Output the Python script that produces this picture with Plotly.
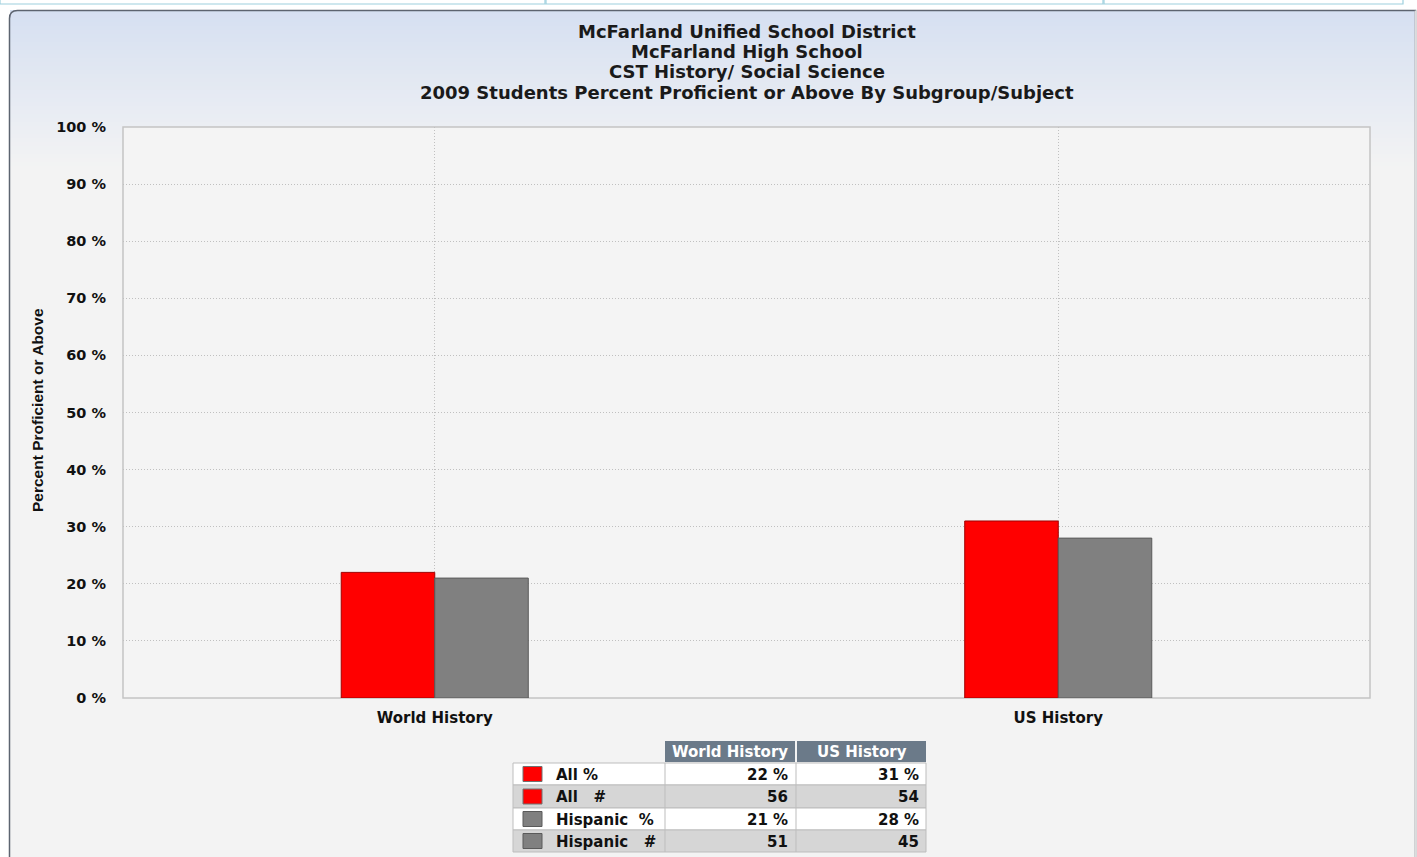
import plotly.graph_objects as go

# ---------------- data ----------------
subjects = ["World History", "US History"]
all_pct = [22, 31]
all_n = [56, 54]
hisp_pct = [21, 28]
hisp_n = [51, 45]
title_lines = [
    "McFarland Unified School District",
    "McFarland High School",
    "CST History/ Social Science",
    "2009 Students Percent Proficient or Above By Subgroup/Subject",
]
y_title = "Percent Proficient or Above"
row_labels = ["All %", "All&nbsp;&nbsp;&nbsp;#", "Hispanic&nbsp;&nbsp;%", "Hispanic&nbsp;&nbsp;&nbsp;#"]
row_colors = ["#ff0000", "#ff0000", "#808080", "#808080"]

# ---------------- geometry ----------------
W, H = 1417, 857
L, R, T, B = 123, 1370, 127, 698  # plot area in px


def px(x):
    return (x - L) / (R - L)


def py(y):
    return (B - y) / (B - T)


FONT = "DejaVu Sans, Verdana, sans-serif"

fig = go.Figure()
fig.add_trace(go.Bar(
    x=subjects, y=all_pct, name="All %", width=0.15, offset=-0.15,
    marker=dict(color="#ff0000", line=dict(color="#a00000", width=1)),
))
fig.add_trace(go.Bar(
    x=subjects, y=hisp_pct, name="Hispanic %", width=0.15, offset=0,
    marker=dict(color="#808080", line=dict(color="#5a5a5a", width=1)),
))

shapes = []
# top tab strip
for x0, x1 in [(0, 545), (546, 1103), (1104, 1403)]:
    shapes.append(dict(type="rect", xref="paper", yref="paper", layer="below",
                       x0=px(x0), x1=px(x1), y0=py(-2), y1=py(4),
                       fillcolor="white", line=dict(color="#9ed0de", width=1.2)))

# gradient panel background
top_c = (214, 224, 242)
bot_c = (243, 243, 243)
g0, g1 = 10, 170
n = 40
for i in range(n):
    t = i / (n - 1)
    c = tuple(round(top_c[k] + (bot_c[k] - top_c[k]) * t) for k in range(3))
    y0 = g0 + (g1 - g0) * i / n
    y1 = g0 + (g1 - g0) * (i + 1) / n + 0.5
    shapes.append(dict(type="rect", xref="paper", yref="paper", layer="below",
                       x0=px(10), x1=px(1415), y0=py(y0), y1=py(y1),
                       fillcolor="rgb(%d,%d,%d)" % c, line=dict(width=0)))
shapes.append(dict(type="rect", xref="paper", yref="paper", layer="below",
                   x0=px(10), x1=px(1415), y0=py(g1), y1=py(860),
                   fillcolor="rgb(243,243,243)", line=dict(width=0)))
# panel border (rounded top-left)
x0p, x1p, y0p, y1p = 9.5, 1415.5, 10.5, 870
r = 8
path = "M %f,%f L %f,%f Q %f,%f %f,%f L %f,%f L %f,%f" % (
    px(x0p), py(y1p), px(x0p), py(y0p + r), px(x0p), py(y0p), px(x0p + r), py(y0p),
    px(x1p), py(y0p), px(x1p), py(y1p))
shapes.append(dict(type="path", xref="paper", yref="paper", layer="below", path=path,
                   line=dict(color="#5d6470", width=1.5)))
shapes.append(dict(type="line", xref="paper", yref="paper", layer="below",
                   x0=px(x1p), x1=px(x1p), y0=py(y0p), y1=py(y1p),
                   line=dict(color="#dcdcdc", width=1.5)))
# plot area background + border
shapes.append(dict(type="rect", xref="paper", yref="paper", layer="below",
                   x0=0, x1=1, y0=0, y1=1, fillcolor="#f4f4f4",
                   line=dict(color="#c4c4c4", width=1.5)))

annotations = []
for i, line in enumerate(title_lines):
    annotations.append(dict(xref="paper", yref="paper", x=px(747), y=py(31 + i * 20.4),
                            text="<b>%s</b>" % line, showarrow=False,
                            font=dict(family=FONT, size=18, color="#1a1a1a"),
                            xanchor="center", yanchor="middle"))
annotations.append(dict(xref="paper", yref="paper", x=px(37), y=py(410), text="<b>%s</b>" % y_title,
                        showarrow=False, textangle=-90,
                        font=dict(family="Liberation Sans Narrow, Arial Narrow, Liberation Sans", size=15.5,
                                  color="#111111"),
                        xanchor="center", yanchor="middle"))

# ---------------- table ----------------
lab_x0, c1_x0, c2_x0, c2_x1 = 513, 665, 797, 926
hdr_y0, hdr_y1 = 741, 762
row_tops = [763, 785, 808, 830, 852]
for (xa, xb), name in zip([(c1_x0, c2_x0 - 2), (c2_x0, c2_x1)], subjects):
    shapes.append(dict(type="rect", xref="paper", yref="paper", x0=px(xa), x1=px(xb),
                       y0=py(hdr_y0), y1=py(hdr_y1), fillcolor="#6b7a89", line=dict(width=0)))
    annotations.append(dict(xref="paper", yref="paper", x=px((xa + xb) / 2), y=py((hdr_y0 + hdr_y1) / 2 + 0.5),
                            text="<b>%s</b>" % name, showarrow=False,
                            font=dict(family=FONT, size=15, color="white"),
                            xanchor="center", yanchor="middle"))
table_vals = [
    ["%d %%" % v for v in all_pct],
    ["%d" % v for v in all_n],
    ["%d %%" % v for v in hisp_pct],
    ["%d" % v for v in hisp_n],
]
for i in range(4):
    ya, yb = row_tops[i], row_tops[i + 1]
    fill = "#ffffff" if i % 2 == 0 else "#d6d6d6"
    shapes.append(dict(type="rect", xref="paper", yref="paper", x0=px(lab_x0), x1=px(c2_x1),
                       y0=py(ya), y1=py(yb), fillcolor=fill, line=dict(color="#bdbdbd", width=1)))
    yc = (ya + yb) / 2
    shapes.append(dict(type="rect", xref="paper", yref="paper", x0=px(523), x1=px(542),
                       y0=py(yc - 7.5), y1=py(yc + 7.5), fillcolor=row_colors[i],
                       line=dict(color="#707070" if i < 2 else "#5a5a5a", width=1)))
    annotations.append(dict(xref="paper", yref="paper", x=px(554), y=py(yc + 0.5),
                            text="<b>%s</b>" % row_labels[i], showarrow=False,
                            font=dict(family=FONT, size=15, color="#111111"),
                            xanchor="left", yanchor="middle"))
    for j, xr in enumerate([790, 921]):
        annotations.append(dict(xref="paper", yref="paper", x=px(xr), y=py(yc + 0.5),
                                text="<b>%s</b>" % table_vals[i][j], showarrow=False,
                                font=dict(family=FONT, size=15, color="#111111"),
                                xanchor="right", yanchor="middle"))
# column separators
for xs in [c1_x0, c2_x0 - 1]:
    shapes.append(dict(type="line", xref="paper", yref="paper", x0=px(xs), x1=px(xs),
                       y0=py(row_tops[0]), y1=py(row_tops[-1]), line=dict(color="#bdbdbd", width=1)))

fig.update_layout(
    width=W, height=H,
    margin=dict(l=L, r=W - R, t=T, b=H - B),
    paper_bgcolor="white",
    plot_bgcolor="rgba(0,0,0,0)",
    showlegend=False,
    barmode="overlay",
    shapes=shapes,
    annotations=annotations,
    xaxis=dict(range=[-0.5, 1.5], showgrid=True, gridcolor="#c0c0c0", griddash="1px,2px",
               zeroline=False, showline=False, ticks="", ticklabelstandoff=9,
               tickfont=dict(family=FONT, size=15, color="#111111"),
               tickvals=subjects, ticktext=["<b>%s</b>" % s for s in subjects]),
    yaxis=dict(range=[0, 100], dtick=10, showgrid=True, gridcolor="#c0c0c0",
               griddash="1px,2px", zeroline=False, showline=False, ticks="", ticklabelstandoff=16,
               tickfont=dict(family=FONT, size=14.5, color="#111111"),
               tickformat="d", tickprefix="<b>", ticksuffix=" %</b>"),
    font=dict(family=FONT),
)
fig.write_html("out.html")
